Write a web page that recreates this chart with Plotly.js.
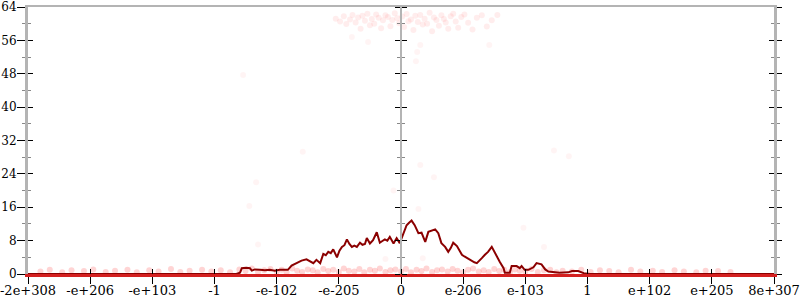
<!DOCTYPE html>
<html>
<head>
<meta charset="utf-8">
<script src="https://cdn.plot.ly/plotly-3.0.1.min.js"></script>
<style>html,body{margin:0;padding:0;background:#fff;}#chart{width:800px;height:300px;}</style>
</head>
<body>
<div id="chart"></div>
<script>
// X axis: ordinal positions of float values
const xTickVals = [0,1,2,3,4,5,6,7,8,9,10,11,12];
const xTickText = ['-2e+308','-e+206','-e+103','-1','-e-102','-e-205','0','e-206','e-103','1','e+102','e+205','8e+307'];
const yTickVals = [0,8,16,24,32,40,48,56,64];

// Smoothed density line
const lineX = [0,3.35,3.41,3.44,3.51,3.57,3.60,3.65,3.73,3.81,3.89,3.97,4.05,4.13,4.18,4.24,4.32,4.40,4.48,4.54,4.59,4.64,4.70,4.75,4.79,4.83,4.87,4.91,4.97,5.01,5.05,5.09,5.13,5.17,5.21,5.25,5.29,5.34,5.38,5.42,5.45,5.50,5.55,5.61,5.66,5.70,5.74,5.78,5.82,5.88,5.93,5.98,6.04,6.09,6.13,6.17,6.22,6.28,6.33,6.39,6.44,6.49,6.55,6.60,6.65,6.71,6.76,6.80,6.84,6.90,6.94,6.98,7.02,7.06,7.10,7.14,7.18,7.22,7.26,7.30,7.35,7.40,7.46,7.51,7.55,7.59,7.65,7.67,7.75,7.78,7.86,7.91,7.94,7.99,8.05,8.13,8.18,8.26,8.32,8.37,8.55,8.69,8.75,8.85,8.94,9.04,12];
const lineY = [0,0,0.3,1.4,1.5,1.4,0.8,1.1,1.0,0.9,1.0,0.8,1.0,0.9,1.0,2.0,2.6,3.2,3.5,3.0,2.6,3.4,2.6,4.8,4.5,5.3,5.0,5.9,4.0,5.6,6.5,6.9,8.3,7.2,6.5,6.8,6.5,7.5,7.0,7.2,8.6,7.3,8.1,10.0,7.5,7.9,8.3,8.0,8.9,7.3,8.6,7.4,9.8,11.7,12.3,12.8,11.7,9.8,9.9,7.7,10.1,10.4,10.7,9.8,7.4,6.5,5.3,6.2,7.5,6.7,5.6,4.6,4.2,3.8,3.4,3.1,2.8,2.6,3.1,3.8,4.6,5.3,6.5,5.0,4.1,2.9,1.4,0.3,0.3,1.9,1.9,1.4,1.9,1.0,1.0,1.6,2.6,2.3,1.1,0.6,0.3,0.4,0.7,0.7,0.2,0,0];

// Raw samples near the top
const topX = [4.95,5.02,5.08,5.12,5.18,5.22,5.27,5.31,5.35,5.38,5.42,5.46,5.50,5.53,5.57,5.60,5.64,5.68,5.71,5.75,5.79,5.83,5.86,5.90,5.94,5.97,6.02,6.05,6.09,6.12,6.16,6.20,6.23,6.27,6.31,6.35,6.38,6.42,6.46,6.50,6.53,6.57,6.61,6.65,6.69,6.72,6.76,6.80,6.84,6.88,6.92,6.97,7.02,7.08,7.15,7.22,7.30,7.38,7.46,7.55];
const topY = [61.2,60.5,61.8,59.9,61.0,62.1,60.3,61.5,58.8,61.9,60.7,62.4,59.6,61.1,60.0,62.2,61.4,58.9,60.8,62.0,61.6,59.4,60.9,62.5,61.3,60.1,61.7,59.2,62.3,60.6,61.0,58.5,61.9,60.4,62.1,59.8,61.2,60.0,62.6,58.2,61.5,60.9,59.5,62.0,61.1,60.3,58.8,61.8,62.4,60.5,59.0,61.6,62.2,60.2,58.6,61.4,62.0,59.3,60.8,62.1];

// Sparse samples in the middle
const midX = [4.42,3.67,3.56,3.70,5.88,5.75,6.31,6.53,6.28,6.35,8.46,8.70,7.97,8.30,5.21,5.47,6.31,6.26,6.24,7.42,3.46];
const midY = [29.3,22.0,16.3,7.1,20.0,3.6,26.1,23.2,15.6,3.8,29.6,28.2,11.1,6.5,56.8,55.6,54.9,53.2,51.0,54.9,47.7];

// Raw samples near zero
const botX = [0.20,0.35,0.55,0.70,0.90,1.05,1.25,1.40,1.60,1.75,1.95,2.10,2.30,2.45,2.60,2.80,2.95,3.10,3.25,3.40,3.50,3.60,3.70,3.80,3.90,4.00,4.08,4.16,4.25,4.33,4.41,4.50,4.58,4.66,4.75,4.83,4.91,5.00,5.08,5.16,5.25,5.33,5.41,5.50,5.58,5.66,5.75,5.83,5.91,6.00,6.08,6.16,6.25,6.33,6.41,6.50,6.58,6.66,6.75,6.83,6.91,7.00,7.08,7.16,7.25,7.33,7.41,7.50,7.58,7.66,7.75,7.83,7.91,8.00,8.10,8.20,8.30,8.40,8.50,8.60,8.75,8.90,9.05,9.20,9.35,9.50,9.70,9.85,10.05,10.20,10.40,10.55,10.75,10.90,11.10,11.30];
const botY = [0.6,1.0,0.4,0.9,0.7,1.1,0.5,0.8,1.0,0.4,0.9,0.6,1.2,0.5,0.8,1.0,0.6,0.9,0.4,1.1,0.7,1.3,0.5,0.9,1.2,0.6,1.0,0.4,1.3,0.8,0.5,1.1,0.9,0.4,1.2,0.7,1.0,0.5,1.3,0.8,0.6,1.2,0.4,1.0,0.8,1.3,0.5,0.9,1.1,0.6,1.2,0.4,1.0,0.7,1.3,0.5,0.9,1.1,0.6,1.2,0.8,0.4,1.0,1.3,0.6,0.9,0.5,1.2,0.7,1.0,0.4,1.1,0.8,0.6,1.2,0.5,0.9,1.0,0.4,0.8,0.6,1.0,0.5,0.9,0.7,0.4,1.0,0.6,0.8,0.5,0.9,0.6,0.4,0.8,0.7,0.5];

const FONT = {family: 'DejaVu Serif', size: 13, color: '#000'};
const YFONT = {family: 'DejaVu Serif', size: 12, color: '#000'};
const GREY = '#b4b4b4';

const dotStyle = (a) => ({size: 6, color: 'rgba(255,0,0,' + a + ')', line: {width: 0}});

const traces = [
  {x: botX, y: botY, type: 'scatter', mode: 'markers', marker: dotStyle(0.17), hoverinfo: 'skip', showlegend: false},
  {x: topX, y: topY, type: 'scatter', mode: 'markers', marker: dotStyle(0.07), hoverinfo: 'skip', showlegend: false},
  {x: midX, y: midY, type: 'scatter', mode: 'markers', marker: dotStyle(0.045), hoverinfo: 'skip', showlegend: false},
  {x: lineX, y: lineY, type: 'scatter', mode: 'lines', line: {color: '#8b0000', width: 2}, hoverinfo: 'skip', showlegend: false},
  // empty traces so the overlay axes get drawn
  {x: [], y: [], xaxis: 'x2', yaxis: 'y', showlegend: false, hoverinfo: 'skip'},
  {x: [], y: [], xaxis: 'x3', yaxis: 'y', showlegend: false, hoverinfo: 'skip'},
  {x: [], y: [], xaxis: 'x', yaxis: 'y2', showlegend: false, hoverinfo: 'skip'},
  {x: [], y: [], xaxis: 'x', yaxis: 'y3', showlegend: false, hoverinfo: 'skip'},
  {x: [], y: [], xaxis: 'x', yaxis: 'y4', showlegend: false, hoverinfo: 'skip'},
  {x: [], y: [], xaxis: 'x', yaxis: 'y5', showlegend: false, hoverinfo: 'skip'},
  {x: [], y: [], xaxis: 'x', yaxis: 'y6', showlegend: false, hoverinfo: 'skip'}
];

const baseX = {range: [0, 12], showgrid: false, zeroline: false, fixedrange: true};
const baseY = {range: [0, 64], tickmode: 'array', tickvals: yTickVals, showgrid: false, zeroline: false, fixedrange: true, tickcolor: '#000', tickwidth: 1};

const layout = {
  width: 800, height: 300,
  margin: {l: 28, r: 26, t: 7, b: 26, pad: 0},
  paper_bgcolor: '#fff', plot_bgcolor: '#fff',
  showlegend: false,
  xaxis: Object.assign({}, baseX, {
    tickmode: 'array', tickvals: xTickVals, ticktext: xTickText,
    ticks: 'outside', ticklen: 7, tickwidth: 1, tickcolor: '#000',
    showline: true, linecolor: '#d42020', linewidth: 3,
    tickfont: FONT, anchor: 'y', ticklabeloverflow: 'allow', ticklabelstandoff: -5
  }),
  xaxis2: Object.assign({}, baseX, {
    overlaying: 'x', anchor: 'y', side: 'bottom',
    tickmode: 'array', tickvals: xTickVals, ticks: 'inside', ticklen: 5, tickwidth: 1, tickcolor: '#000',
    showticklabels: false, showline: false
  }),
  xaxis3: Object.assign({}, baseX, {
    overlaying: 'x', anchor: 'y', side: 'top',
    ticks: '', showticklabels: false, showline: true, linecolor: GREY, linewidth: 2
  }),
  yaxis: Object.assign({}, baseY, {
    ticks: 'outside', ticklen: 8, showline: true, linecolor: GREY, linewidth: 3,
    tickfont: YFONT, anchor: 'x', side: 'left', ticklabeloverflow: 'allow', ticklabelstandoff: -2,
    minor: {dtick: 4, tick0: 0, ticks: 'outside', ticklen: 3, tickcolor: '#888', showgrid: false}
  }),
  yaxis2: Object.assign({}, baseY, {
    overlaying: 'y', anchor: 'x', side: 'left',
    ticks: 'inside', ticklen: 5, showticklabels: false, showline: false,
    minor: {dtick: 4, tick0: 0, ticks: 'inside', ticklen: 3, tickcolor: '#888', showgrid: false}
  }),
  yaxis3: Object.assign({}, baseY, {
    overlaying: 'y', anchor: 'free', position: 0.5, side: 'left',
    ticks: 'outside', ticklen: 5, showticklabels: false, showline: true, linecolor: GREY, linewidth: 2,
    minor: {dtick: 4, tick0: 0, ticks: 'outside', ticklen: 3, tickcolor: '#888', showgrid: false}
  }),
  yaxis4: Object.assign({}, baseY, {
    overlaying: 'y', anchor: 'free', position: 0.5, side: 'right',
    ticks: 'outside', ticklen: 5, showticklabels: false, showline: false,
    minor: {dtick: 4, tick0: 0, ticks: 'outside', ticklen: 3, tickcolor: '#888', showgrid: false}
  }),
  yaxis5: Object.assign({}, baseY, {
    overlaying: 'y', anchor: 'x', side: 'right',
    ticks: 'outside', ticklen: 5, showticklabels: false, showline: true, linecolor: GREY, linewidth: 3,
    minor: {dtick: 4, tick0: 0, ticks: 'outside', ticklen: 3, tickcolor: '#888', showgrid: false}
  }),
  yaxis6: Object.assign({}, baseY, {
    overlaying: 'y', anchor: 'x', side: 'right',
    ticks: 'inside', ticklen: 5, showticklabels: false, showline: false,
    minor: {dtick: 4, tick0: 0, ticks: 'inside', ticklen: 3, tickcolor: '#888', showgrid: false}
  })
};

Plotly.newPlot('chart', traces, layout, {staticPlot: true, displayModeBar: false});
</script>
</body>
</html>
